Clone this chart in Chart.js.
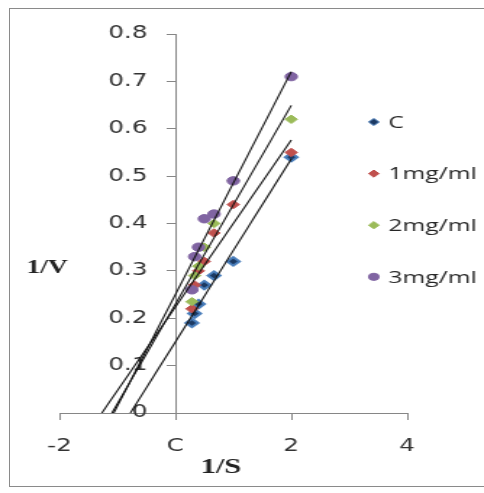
<!DOCTYPE html>
<html><head><meta charset="utf-8">
<script src="https://cdn.jsdelivr.net/npm/chart.js@4.4.1/dist/chart.umd.min.js"></script>
<style>
html,body{margin:0;padding:0;background:#fff;width:484px;height:493px;overflow:hidden}
#wrap{position:absolute;left:0;top:0;width:334px;height:493px;transform:scaleX(1.449);transform-origin:0 0}
#frame{position:absolute;left:9px;top:8px;width:490px;height:479px;border:1px solid #8a8a8a;box-sizing:border-box;pointer-events:none}
</style></head>
<body>
<div id="wrap"><canvas id="c" width="334" height="493"></canvas></div>
<div id="frame"></div>
<script>
// ---- data ----
const invS = [2, 1, 0.667, 0.5, 0.4, 0.333, 0.286];
const seriesNames = ['C', '1mg/ml', '2mg/ml', '3mg/ml'];
const invV_C  = [0.54, 0.32, 0.29, 0.27, 0.23, 0.21, 0.19];
const invV_1  = [0.55, 0.44, 0.38, 0.32, 0.30, 0.27, 0.22];
const invV_2  = [0.62, 0.49, 0.40, 0.35, 0.31, 0.29, 0.235];
const invV_3  = [0.71, 0.49, 0.42, 0.41, 0.35, 0.33, 0.26];
const xTickValues = [-2, 0, 2, 4];
const xTickLabels = ['-2', 'C', '2', '4'];
const yTickValues = [0, 0.1, 0.2, 0.3, 0.4, 0.5, 0.6, 0.7, 0.8];
const yTickLabels = ['0', '0.1', '0.2', '0.3', '0.4', '0.5', '0.6', '0.7', '0.8'];
const xTitle = '1/S';
const yTitle = '1/V';

// ---- styles ----
const styles = [
  {bg:'#1c3a63', border:'#4a7ebb', shape:'rectRot', r:4.2, bw:2},
  {bg:'#c0504d', border:'#c0504d', shape:'rectRot', r:4.2, bw:1},
  {bg:'#9bbb59', border:'#9bbb59', shape:'rectRot', r:4.2, bw:1},
  {bg:'#8064a2', border:'#8064a2', shape:'circle',  r:4.2, bw:1}
];
const allY = [invV_C, invV_1, invV_2, invV_3];

function linFit(xs, ys){
  const n = xs.length;
  const mx = xs.reduce((a,b)=>a+b,0)/n, my = ys.reduce((a,b)=>a+b,0)/n;
  let sxy=0, sxx=0;
  for(let i=0;i<n;i++){ sxy+=(xs[i]-mx)*(ys[i]-my); sxx+=(xs[i]-mx)*(xs[i]-mx); }
  const m = sxy/sxx; return {m, b: my - m*mx};
}

const datasets = [];
allY.forEach((ys, i) => {
  const st = styles[i];
  datasets.push({
    type:'scatter', label: seriesNames[i],
    data: invS.map((x,k)=>({x, y: ys[k]})),
    backgroundColor: st.bg, borderColor: st.border, borderWidth: st.bw,
    pointStyle: st.shape, pointRadius: st.r, pointHoverRadius: st.r,
    order: 4 - i + 1
  });
});
allY.forEach((ys, i) => {
  const f = linFit(invS, ys);
  const xmax = Math.max(...invS);
  datasets.push({
    type:'line', label: 'trend ' + seriesNames[i], isTrend: true,
    data: [{x: -f.b/f.m, y: 0}, {x: xmax, y: f.m*xmax + f.b}],
    borderColor:'#111', borderWidth:1.1, pointRadius:0, fill:false, tension:0,
    order: 0
  });
});

const annot = {
  id:'annot',
  afterDraw(chart){
    const ctx = chart.ctx;
    ctx.save();
    // axis titles
    ctx.fillStyle = '#222';
    ctx.textAlign = 'center'; ctx.textBaseline = 'middle';
    ctx.font = 'bold 19px "Liberation Serif"';
    ctx.fillText(yTitle, 32.4, 268);
    ctx.font = 'bold 21px "Liberation Serif"';
    ctx.fillText(xTitle, 152.5, 468);
    // legend
    const lx = 258, tx = 268, y0 = 122, dy = 51.6;
    chart.data.datasets.filter(d=>!d.isTrend).forEach((d, i) => {
      const y = y0 + i*dy;
      ctx.fillStyle = d.backgroundColor; ctx.strokeStyle = d.borderColor;
      ctx.lineWidth = 1;
      ctx.beginPath();
      if (d.pointStyle === 'circle') {
        ctx.arc(lx, y, 3.6, 0, Math.PI*2);
      } else {
        const r = 3.6;
        ctx.moveTo(lx, y-r); ctx.lineTo(lx+r, y); ctx.lineTo(lx, y+r); ctx.lineTo(lx-r, y); ctx.closePath();
      }
      ctx.fill(); ctx.stroke();
      ctx.fillStyle = '#262626';
      ctx.textAlign = 'left';
      ctx.font = '17px "Open Sans"';
      ctx.fillText(d.label, tx, y + 1);
    });
    ctx.restore();
  }
};

const yTickFont = {family:'DejaVu Sans', size:17};

new Chart(document.getElementById('c'), {
  data: { datasets },
  options: {
    responsive:false, animation:false,
    layout:{ padding:{left:41, right:53, top:34, bottom:80} },
    plugins:{ legend:{display:false}, tooltip:{enabled:false}, title:{display:false} },
    scales:{
      x:{
        type:'linear', min:-2, max:4, position:{y:0},
        afterFit(s){ s.height = 0; },
        afterBuildTicks(s){ s.ticks = xTickValues.map(v=>({value:v})); },
        ticks:{ autoSkip:false, maxRotation:0, padding:17, color:'#333',
          font:yTickFont,
          callback(v){ const k = xTickValues.indexOf(v); return k>=0 ? xTickLabels[k] : ''; } },
        grid:{ drawOnChartArea:false, drawTicks:true, tickLength:6, color:'#868686' },
        border:{ color:'#868686', width:1 }
      },
      y:{
        type:'linear', min:0, max:0.8, position:{x:0},
        afterFit(s){ s.width = 0; },
        afterBuildTicks(s){ s.ticks = yTickValues.map(v=>({value:v})); },
        ticks:{ display:false },
        grid:{ drawOnChartArea:false, drawTicks:true, tickLength:6, color:'#868686' },
        border:{ color:'#868686', width:1 }
      },
      yLabels:{
        type:'linear', axis:'y', min:0, max:0.8, position:{x:-0.48},
        afterFit(s){ s.width = 0; },
        afterBuildTicks(s){ s.ticks = yTickValues.map(v=>({value:v})); },
        ticks:{ autoSkip:false, color:'#333', font:yTickFont,
          callback(v){ const k = yTickValues.findIndex(t=>Math.abs(t-v)<1e-9); return k>=0 ? yTickLabels[k] : ''; } },
        grid:{ display:false, drawOnChartArea:false, drawTicks:false },
        border:{ display:false }
      }
    }
  },
  plugins:[annot]
});
</script>
</body></html>
